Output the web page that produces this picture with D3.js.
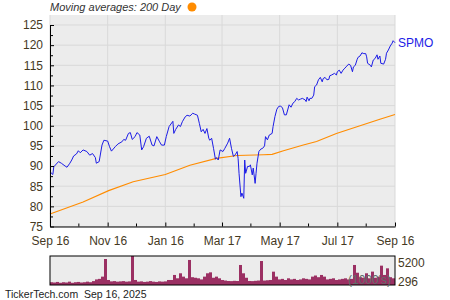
<!DOCTYPE html>
<html lang="en">
<head>
  <meta charset="UTF-8">
  <title>SPMO</title>
  <script src="https://cdn.jsdelivr.net/npm/d3@7/dist/d3.min.js"></script>
  <style>
    body { margin: 0; background: #fff; }
    svg { display: block; font-family: "Liberation Sans", Arial, sans-serif; }
  </style>
</head>
<body>
  <script>
    // chart data (days counted from Sep 16, 2024)
    const startDate = "2024-09-16";
    const priceDay = [0,3,4,9,12,16,18,21,23,25,28,30,32,35,39,42,45,48,49,52,55,57,61,63,65,69,72,76,78,80,
      83,85,87,90,92,95,97,99,102,105,108,110,113,116,118,121,123,126,130,131,133,136,138,140,143,145,148,151,153,156,
      158,160,162,164,166,168,169,171,173,175,176,178,
      180,183,185,188,190,192,194,196,198,199,200,202,203,205,206,207,209,211,212,214,215,217,218,219,221,223,225,227,228,230,
      232,235,236,238,240,242,244,246,248,250,253,255,257,259,261,263,265,267,270,271,272,274,275,277,279,280,282,284,286,288,
      289,291,293,295,296,298,301,303,304,306,308,310,312,314,316,318,320,321,323,325,326,328,330,332,334,335,336,339,340,342,
      344,346,347,349,350,353,355,356,358,360,362,363,365];
    const priceValue = [88.6,87.9,89.8,91.1,90.7,90,89.7,90.7,91.5,92.5,93,93.8,93.3,94,93.6,92.7,93.1,92.1,90.7,91.1,
      95.2,96.4,96.2,94.8,93.7,94.8,95.5,96,96.6,96.4,98.1,98.3,96.6,97.3,98.3,97.7,94,94.8,96.9,97.4,
      95.2,95,97.3,96,95.2,95.2,97.3,99.8,101.1,98.1,99.1,100.2,99.8,101,102.2,102.6,102.4,103.1,102.9,102.6,
      100.6,98.5,99.1,98.1,99.3,96.9,96.4,96.9,94.4,91.7,92.1,91.5,
      94,93.6,94.4,95.7,96.9,94.4,92.4,92.8,93.6,91.9,88.2,82.4,83.3,82,91.5,88.2,89.9,89.9,90.3,87.8,
      89.5,85.7,88.2,90.7,93.6,94.2,94.4,95,97.3,96.5,97.7,98.1,99.8,102.3,104.1,104.8,104.9,104.4,102.7,102.7,
      105.2,104.6,105.6,106,106.8,106.4,106.6,106.8,106.4,106,107.1,106.2,106.8,106.8,107.6,109.7,110.1,111.4,112,110.9,
      111.7,112,111.4,111.5,112.4,112.6,113,112.6,113.4,113.8,113,113.8,114.3,114.8,115.3,115,113.4,114.6,115,116.5,
      117,117.3,118.1,117.9,117.9,117.1,115.5,115,114.6,116.3,116.7,117.6,116.5,117.3,115.5,115.3,116.5,118,118.8,119.8,
      120.5,121.1,120.6];

    // 200 day moving average
    const maDay = [0,35,62,88,122,148,176,198,226,235,247,268,282,303,328,349,365];
    const maValue = [78.1,81.1,83.9,86.1,87.9,90.2,91.9,92.6,92.8,92.9,93.8,95.2,96.1,98.1,100,101.6,102.8];

    // volume in thousands, one bar per slot across the year
    const volume = [500,450,550,400,500,450,600,400,500,550,450,500,600,500,700,
      1000,1100,1500,4660,900,
      650,700,600,650,700,600,650,
      5200,900,
      600,650,550,600,700,600,550,650,600,650,
      900,900,1800,1200,2100,1500,1200,4490,1400,1300,1200,1000,1500,2100,2270,1300,1500,1200,900,800,
      720,700,750,720,
      3590,2100,1300,
      720,700,750,
      800,4300,
      800,850,900,
      2390,1500,
      1000,1100,900,1200,1000,1100,900,1000,1200,1100,1000,
      1500,1700,1400,1800,1500,
      1000,1100,1200,900,1000,1100,1200,1000,1100,
      3590,2200,1400,1300,2100,1200,2400,1300,1500,3470,1800,2990,1400,1200];

    const xTickDates = ["2024-09-16","2024-11-16","2025-01-16","2025-03-17","2025-05-17","2025-07-17","2025-09-16"];
    const xTickLabels = ["Sep 16","Nov 16","Jan 16","Mar 17","May 17","Jul 17","Sep 16"];
    const xMinorDates = ["2024-10-16","2024-12-16","2025-02-15","2025-04-16","2025-06-16","2025-08-16"];
    const yTicks = [75,80,85,90,95,100,105,110,115,120,125];
    const yMinor = [77.5,82.5,87.5,92.5,97.5,102.5,107.5,112.5,117.5,122.5];
    const volLabels = ["5200","296"];

    const parse = d3.timeParse("%Y-%m-%d");
    const t0 = parse(startDate);
    const dayToDate = d => d3.timeDay.offset(t0, d);

    const W = 450, H = 300;
    const pLeft = 50, pRight = 395, pTop = 15, pBottom = 226.5;
    const textColor = "#45391f";

    const svg = d3.select("body").append("svg").attr("width", W).attr("height", H);

    const x = d3.scaleTime()
      .domain([t0, parse(xTickDates[xTickDates.length - 1])])
      .range([pLeft, pRight]);
    const y = d3.scaleLinear().domain([75, 125]).range([pBottom, 25]);

    // plot background
    svg.append("rect")
      .attr("x", pLeft).attr("y", pTop)
      .attr("width", pRight - pLeft).attr("height", pBottom - pTop)
      .attr("fill", "#ececec");

    // grid
    svg.append("g").selectAll("line")
      .data(yTicks)
      .join("line")
      .attr("x1", pLeft).attr("x2", pRight)
      .attr("y1", d => y(d)).attr("y2", d => y(d))
      .attr("stroke", "#d9d9d9");
    svg.append("g").selectAll("line")
      .data(xTickDates.map(parse))
      .join("line")
      .attr("x1", d => x(d)).attr("x2", d => x(d))
      .attr("y1", pTop).attr("y2", pBottom)
      .attr("stroke", "#d9d9d9");

    // lines
    const maData = maDay.map((d, i) => ({ date: dayToDate(d), v: maValue[i] }));
    const priceData = priceDay.map((d, i) => ({ date: dayToDate(d), v: priceValue[i] }));
    const line = d3.line().x(d => x(d.date)).y(d => y(d.v));

    svg.append("path").datum(maData)
      .attr("d", line).attr("fill", "none")
      .attr("stroke", "#ff8c00").attr("stroke-width", 1.1);
    svg.append("path").datum(priceData)
      .attr("d", line).attr("fill", "none")
      .attr("stroke", "#1c1ce6").attr("stroke-width", 1);

    // axes
    const yAxis = svg.append("g")
      .attr("transform", `translate(${pLeft},0)`)
      .call(d3.axisLeft(y).tickValues(yTicks).tickSizeInner(-4).tickSizeOuter(0).tickPadding(7));
    svg.append("g")
      .attr("transform", `translate(${pLeft},0)`)
      .call(d3.axisLeft(y).tickValues(yMinor).tickSizeInner(-3).tickSizeOuter(0).tickFormat(""))
      .select(".domain").remove();

    const xAxis = svg.append("g")
      .attr("transform", `translate(0,${pBottom})`)
      .call(d3.axisBottom(x).tickValues(xTickDates.map(parse)).tickSizeInner(-4).tickSizeOuter(0).tickPadding(10)
        .tickFormat((d, i) => xTickLabels[i]));
    svg.append("g")
      .attr("transform", `translate(0,${pBottom})`)
      .call(d3.axisBottom(x).tickValues(xMinorDates.map(parse)).tickSizeInner(-3).tickSizeOuter(0).tickFormat(""))
      .select(".domain").remove();

    svg.selectAll(".tick text")
      .attr("font-size", 12)
      .attr("font-family", "'Liberation Sans', Arial, sans-serif")
      .attr("fill", textColor);
    yAxis.select(".domain").attr("stroke", "#000");
    xAxis.select(".domain").attr("stroke", "#000");

    // legend
    svg.append("text")
      .attr("x", 50).attr("y", 10.5)
      .attr("font-size", 11).attr("font-style", "italic")
      .attr("fill", "#333")
      .text("Moving averages: 200 Day");
    svg.append("circle")
      .attr("cx", 192).attr("cy", 7).attr("r", 4.5)
      .attr("fill", "#ff8c00");

    // series label at line end
    const last = priceData[priceData.length - 1];
    svg.append("text")
      .attr("x", x(last.date) + 3).attr("y", y(last.v) + 4)
      .attr("font-size", 12).attr("fill", "#1c1ce6")
      .text("SPMO");

    // volume panel
    const vTop = 256, vBottom = 285;
    const vx = d3.scaleBand().domain(d3.range(volume.length)).range([pLeft, pRight]).padding(0);
    const vy = d3.scaleLinear().domain([0, 5200]).range([vBottom, vTop]);

    svg.append("rect")
      .attr("x", pLeft).attr("y", vTop)
      .attr("width", pRight - pLeft).attr("height", vBottom - vTop)
      .attr("fill", "#ececec");
    svg.append("g").selectAll("rect")
      .data(volume)
      .join("rect")
      .attr("x", (d, i) => vx(i))
      .attr("y", d => vy(d))
      .attr("width", vx.bandwidth())
      .attr("height", d => vBottom - vy(d))
      .attr("fill", "#9b3063");
    svg.append("rect")
      .attr("x", pLeft).attr("y", vTop)
      .attr("width", pRight - pLeft).attr("height", vBottom - vTop)
      .attr("fill", "none").attr("stroke", "#000");

    svg.append("text")
      .attr("x", 391).attr("y", 284)
      .attr("text-anchor", "end")
      .attr("font-size", 12).attr("fill", "#5f6e6a")
      .text("(1000's)");

    svg.selectAll(".vlab")
      .data(volLabels)
      .join("text")
      .attr("x", 398)
      .attr("y", (d, i) => i === 0 ? 267 : 286)
      .attr("font-size", 12).attr("fill", textColor)
      .text(d => d);

    // footer
    svg.append("text")
      .attr("x", 5).attr("y", 298)
      .attr("font-size", 10.5).attr("fill", "#222")
      .text("TickerTech.com");
    svg.append("text")
      .attr("x", 84).attr("y", 298)
      .attr("font-size", 10.5).attr("fill", "#222")
      .text("Sep 16, 2025");
  </script>
</body>
</html>
